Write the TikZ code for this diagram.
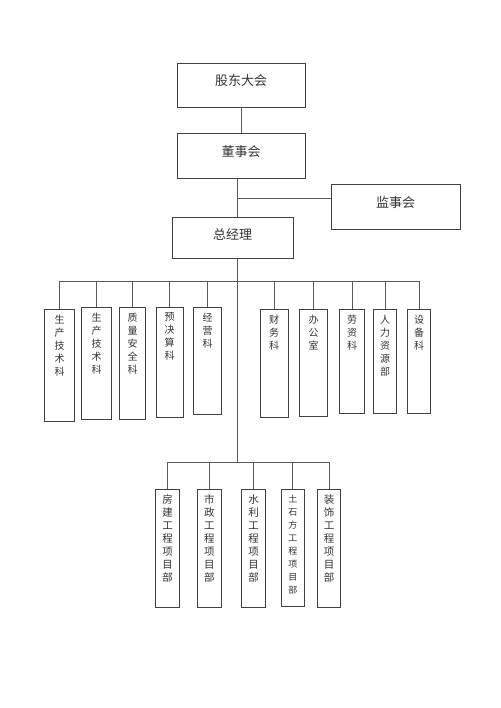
\documentclass[tikz,border=0pt]{standalone}
\usepackage{fontspec}
\setmainfont{Noto Sans CJK SC}
\tikzset{
  x=1pt, y=-1pt,
  box/.style={draw=black!75, line width=0.9pt, inner sep=0pt, rectangle, text=black!80},
  conn/.style={draw=black!65, line width=0.8pt},
  toptxt/.style={font=\fontsize{13}{15}\selectfont, text=black!80}
}
\newcommand\vtxt[3]{\parbox[c][#1pt][t]{20pt}{\centering\fontsize{#2}{13}\selectfont\vspace*{6pt}#3}}
\begin{document}
\begin{tikzpicture}
\useasboundingbox[fill=white] (0,0) rectangle (500,708);
% top level boxes
\node[box, minimum width=128pt, minimum height=44pt] (gd) at (241,85) {};
\node[toptxt] (gdt) at (241,81) {股东大会};
\node[box, minimum width=128pt, minimum height=45pt] (dsh) at (241,155.5) {};
\node[toptxt] (dsht) at (241,151.5) {董事会};
\node[box, minimum width=129pt, minimum height=45pt] (jsh) at (395.5,206.5) {};
\node[toptxt] (jsht) at (395.5,202.5) {监事会};
\node[box, minimum width=121pt, minimum height=41pt] (zjl) at (232.5,237.5) {};
\node[toptxt] (zjlt) at (232.5,234.5) {总经理};
% coordinates
\coordinate (tx) at (237,0);
\coordinate (br) at (237,198);
\coordinate (bus1) at (237,281);
\coordinate (bus2) at (237,462);
% middle departments
\node[box, minimum width=29.6pt, minimum height=112pt] (d1) at (59.5,365) {\vtxt{112}{10}{生\\产\\技\\术\\科}};
\node[box, minimum width=29.6pt, minimum height=112pt] (d2) at (96.5,363) {\vtxt{112}{10}{生\\产\\技\\术\\科}};
\node[box, minimum width=26.3pt, minimum height=112pt] (d3) at (132.5,363) {\vtxt{112}{10}{质\\量\\安\\全\\科}};
\node[box, minimum width=27pt, minimum height=110.7pt] (d4) at (169.5,362.3) {\vtxt{110.7}{10}{预\\决\\算\\科}};
\node[box, minimum width=27.4pt, minimum height=107.3pt] (d5) at (207.5,360.7) {\vtxt{107.3}{10}{经\\营\\科}};
\node[box, minimum width=28pt, minimum height=108.4pt] (d6) at (274,363.5) {\vtxt{108.4}{10}{财\\务\\科}};
\node[box, minimum width=28.6pt, minimum height=107.4pt] (d7) at (313.5,363) {\vtxt{107.4}{10}{办\\公\\室}};
\node[box, minimum width=25.3pt, minimum height=104pt] (d8) at (352,361.3) {\vtxt{104}{10}{劳\\资\\科}};
\node[box, minimum width=22.3pt, minimum height=104pt] (d9) at (385,361.3) {\vtxt{104}{10}{人\\力\\资\\源\\部}};
\node[box, minimum width=23.6pt, minimum height=104pt] (d10) at (419,361.3) {\vtxt{104}{10}{设\\备\\科}};
% project departments
\node[box, minimum width=23.7pt, minimum height=118pt] (p1) at (167.5,548) {\vtxt{118}{10.5}{房\\建\\工\\程\\项\\目\\部}};
\node[box, minimum width=23.7pt, minimum height=118pt] (p2) at (209.3,548) {\vtxt{118}{10.5}{市\\政\\工\\程\\项\\目\\部}};
\node[box, minimum width=23.7pt, minimum height=118pt] (p3) at (253.5,548) {\vtxt{118}{10.5}{水\\利\\工\\程\\项\\目\\部}};
\node[box, minimum width=23pt, minimum height=117pt] (p4) at (292.8,547.5) {\vtxt{117}{9}{土\\石\\方\\工\\程\\项\\目\\部}};
\node[box, minimum width=23.6pt, minimum height=118pt] (p5) at (329,548) {\vtxt{118}{10.5}{装\\饰\\工\\程\\项\\目\\部}};
% connectors
\draw[conn] (gd.south) -- (dsh.north);
\draw[conn] (dsh.south -| tx) -- (zjl.north -| tx);
\draw[conn] (br) -- (br -| jsh.west);
\draw[conn] (zjl.south -| tx) -- (bus2);
\draw[conn] (bus1 -| d1.north) -- (bus1 -| d10.north);
\foreach \n in {d1,d2,d3,d4,d5,d6,d7,d8,d9,d10}
  \draw[conn] (bus1 -| \n.north) -- (\n.north);
\draw[conn] (bus2 -| p1.north) -- (bus2 -| p5.north);
\foreach \n in {p1,p2,p3,p4,p5}
  \draw[conn] (bus2 -| \n.north) -- (\n.north);
\end{tikzpicture}
\end{document}
